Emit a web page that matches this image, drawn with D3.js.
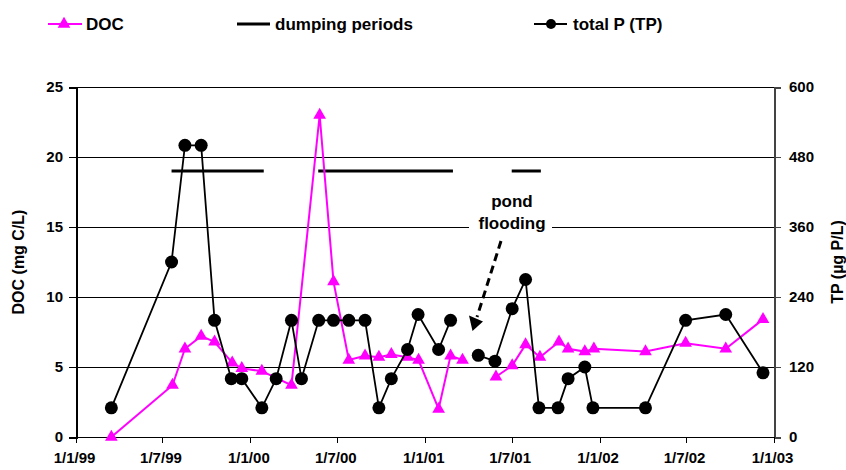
<!DOCTYPE html>
<html><head><meta charset="utf-8">
<script src="https://cdn.jsdelivr.net/npm/d3@7"></script>
<style>
body{margin:0;background:#fff;}
svg{display:block;font-family:"Liberation Sans",Arial,sans-serif;font-weight:bold;}
</style></head>
<body><svg id="c" width="846" height="470"></svg>
<script>
// ---- data ----
const docDates = ["1999-03-16","1999-07-22","1999-08-17","1999-09-20","1999-10-18","1999-11-24","1999-12-14","2000-01-25","2000-03-27","2000-05-25","2000-06-23","2000-07-25","2000-08-28","2000-09-26","2000-10-22","2000-11-25","2000-12-18","2001-01-29","2001-02-23","2001-03-20",null,"2001-05-29","2001-07-02","2001-07-30","2001-08-29","2001-10-08","2001-10-27","2001-12-01","2001-12-20","2002-04-07","2002-06-30","2002-09-22","2002-12-09"];
const docValues = [0,3.7,6.3,7.2,6.8,5.3,4.9,4.7,3.7,23,11.1,5.5,5.8,5.7,5.9,5.7,5.5,2.0,5.8,5.5,null,4.3,5.1,6.6,5.7,6.8,6.3,6.1,6.3,6.1,6.7,6.3,8.4];
const tpDates = ["1999-03-16","1999-07-20","1999-08-17","1999-09-20","1999-10-18","1999-11-22","1999-12-14","2000-01-25","2000-02-24","2000-03-27","2000-04-17","2000-05-23","2000-06-23","2000-07-25","2000-08-28","2000-09-26","2000-10-22","2000-11-25","2000-12-17","2001-01-29","2001-02-23",null,"2001-04-22","2001-05-27","2001-07-02","2001-07-30","2001-08-27","2001-10-06","2001-10-27","2001-12-01","2001-12-18","2002-04-07","2002-06-30","2002-09-22","2002-12-09"];
const tpValues = [50,300,500,500,200,100,100,50,100,200,100,200,200,200,200,50,100,150,210,150,200,null,140,130,220,270,50,50,100,120,50,50,200,210,110];
const dumpStart = ["1999-07-20","2000-05-22","2001-07-01"];
const dumpEnd   = ["2000-01-29","2001-02-28","2001-08-31"];
const dumpLevel = 19; // on DOC axis
const xTickDates = ["1999-01-01","1999-07-01","2000-01-01","2000-07-01","2001-01-01","2001-07-01","2002-01-01","2002-07-01","2003-01-01"];
const xTickLabels = ["1/1/99","1/7/99","1/1/00","1/7/00","1/1/01","1/7/01","1/1/02","1/7/02","1/1/03"];
const docTicks = [0,5,10,15,20,25];
const tpTicks = [0,120,240,360,480,600];
const legendLabels = ["DOC","dumping periods","total P (TP)"];

// ---- layout ----
const parse = d3.utcParse("%Y-%m-%d");
const svg = d3.select("#c");
const L = 76, R = 774, T = 87, B = 437;
const x = d3.scaleUtc().domain([parse("1999-01-01"), parse("2003-01-01")]).range([L, R]);
const yDoc = d3.scaleLinear().domain([0,25]).range([B,T]);
const yTp = d3.scaleLinear().domain([0,600]).range([B,T]);
const MAG = "#ff00ff";

// gridlines
svg.append("g").attr("shape-rendering","crispEdges").selectAll("line").data(docTicks.filter(d=>d>0)).join("line")
  .attr("x1",L).attr("x2",R).attr("y1",d=>yDoc(d)+0.5).attr("y2",d=>yDoc(d)+0.5)
  .attr("stroke","#000").attr("stroke-width",1);

// left axis
const gl = svg.append("g").attr("transform",`translate(${L},0)`).attr("shape-rendering","crispEdges")
  .call(d3.axisLeft(yDoc).tickValues(docTicks).tickSize(7).tickPadding(6));
gl.select(".domain").attr("stroke","#000").attr("stroke-width",2);
gl.selectAll(".tick line").attr("stroke","#000");
gl.selectAll("text").attr("font-size",15).attr("font-weight","bold").attr("font-family","Liberation Sans, Arial, sans-serif").attr("fill","#000");

// right axis
const gr = svg.append("g").attr("transform",`translate(${R},0)`).attr("shape-rendering","crispEdges")
  .call(d3.axisRight(yTp).tickValues(tpTicks).tickSize(7).tickPadding(8));
gr.select(".domain").attr("stroke","#444").attr("stroke-width",2);
gr.selectAll(".tick line").attr("stroke","#444");
gr.selectAll("text").attr("font-size",15).attr("font-weight","bold").attr("font-family","Liberation Sans, Arial, sans-serif").attr("fill","#000");

// bottom axis
const gb = svg.append("g").attr("transform",`translate(0,${B})`).attr("shape-rendering","crispEdges")
  .call(d3.axisBottom(x).tickValues(xTickDates.map(parse)).tickSize(6).tickPadding(9)
    .tickFormat((d,i)=>xTickLabels[i]));
gb.select(".domain").attr("stroke","#000").attr("stroke-width",1.5);
gb.selectAll(".tick line").attr("stroke","#000");
gb.selectAll("text").attr("font-size",15).attr("font-weight","bold").attr("font-family","Liberation Sans, Arial, sans-serif").attr("fill","#000").attr("dx",-2);

// axis titles
svg.append("text").attr("transform",`translate(24,${(T+B)/2}) rotate(-90)`)
  .attr("text-anchor","middle").attr("font-size",16).text("DOC (mg C/L)");
svg.append("text").attr("transform",`translate(843,${(T+B)/2}) rotate(-90)`)
  .attr("text-anchor","middle").attr("font-size",16).text("TP (µg P/L)");

// dumping periods
svg.append("g").selectAll("line").data(dumpStart.map((s,i)=>[parse(s),parse(dumpEnd[i])])).join("line")
  .attr("x1",d=>x(d[0])).attr("x2",d=>x(d[1]))
  .attr("y1",yDoc(dumpLevel)).attr("y2",yDoc(dumpLevel))
  .attr("stroke","#000").attr("stroke-width",3);

// DOC series
const docData = docDates.map((d,i)=>({d: d?parse(d):null, v: docValues[i]}));
svg.append("path").datum(docData)
  .attr("d", d3.line().defined(p=>p.v!=null).x(p=>x(p.d)).y(p=>yDoc(p.v)))
  .attr("fill","none").attr("stroke",MAG).attr("stroke-width",2);
const tri = d3.symbol().type(d3.symbolTriangle).size(70);
svg.append("g").selectAll("path").data(docData.filter(p=>p.v!=null)).join("path")
  .attr("d",tri).attr("transform",p=>`translate(${x(p.d)},${yDoc(p.v)})`).attr("fill",MAG);

// TP series
const tpData = tpDates.map((d,i)=>({d: d?parse(d):null, v: tpValues[i]}));
svg.append("path").datum(tpData)
  .attr("d", d3.line().defined(p=>p.v!=null).x(p=>x(p.d)).y(p=>yTp(p.v)))
  .attr("fill","none").attr("stroke","#000").attr("stroke-width",1.8);
svg.append("g").selectAll("circle").data(tpData.filter(p=>p.v!=null)).join("circle")
  .attr("cx",p=>x(p.d)).attr("cy",p=>yTp(p.v)).attr("r",6.5).attr("fill","#000");

// annotation
svg.append("rect").attr("x",469).attr("y",188).attr("width",83).attr("height",46).attr("fill","#fff");
svg.append("text").attr("x",512).attr("y",207).attr("text-anchor","middle").attr("font-size",17).text("pond");
svg.append("text").attr("x",512).attr("y",229).attr("text-anchor","middle").attr("font-size",17).text("flooding");
svg.append("line").attr("x1",501).attr("y1",241).attr("x2",477).attr("y2",317)
  .attr("stroke","#000").attr("stroke-width",3).attr("stroke-dasharray","8,5");
svg.append("path").attr("d","M469,315.5 L483,321.5 L472.5,331 Z").attr("fill","#000");

// legend
const lg = svg.append("g");
lg.append("line").attr("x1",48).attr("x2",82).attr("y1",24).attr("y2",24).attr("stroke",MAG).attr("stroke-width",2);
lg.append("path").attr("d",tri).attr("transform","translate(64,24)").attr("fill",MAG);
lg.append("text").attr("x",86).attr("y",30).attr("font-size",17).text(legendLabels[0]);
lg.append("line").attr("x1",237).attr("x2",270).attr("y1",24).attr("y2",24).attr("stroke","#000").attr("stroke-width",3);
lg.append("text").attr("x",275).attr("y",30).attr("font-size",17).text(legendLabels[1]);
lg.append("line").attr("x1",534).attr("x2",567).attr("y1",24).attr("y2",24).attr("stroke","#000").attr("stroke-width",2);
lg.append("circle").attr("cx",551).attr("cy",24).attr("r",5).attr("fill","#000");
lg.append("text").attr("x",573).attr("y",30).attr("font-size",17).text(legendLabels[2]);
</script></body></html>
